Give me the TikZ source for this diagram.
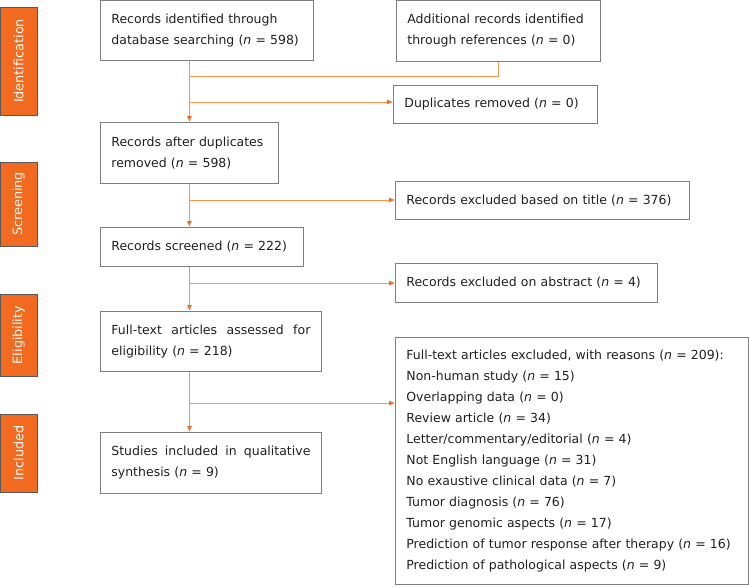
\documentclass[tikz,border=0pt]{standalone}
\usepackage{fontspec}
\setmainfont{DejaVu Sans}
\usepackage{tikz}
\usetikzlibrary{shapes,arrows,arrows.meta,positioning}
\definecolor{stageorange}{HTML}{F26A1F}
\definecolor{flowline}{HTML}{F7954A}
\definecolor{boxgray}{HTML}{7F7F7F}
\definecolor{inktext}{HTML}{231F20}
\newcommand{\boxfont}{\fontsize{12.5}{21}\selectfont\hyphenpenalty=10000 }
\newcommand{\nn}[1]{(\textit{n} = #1)}
\newcommand{\fullline}[1]{\hbox to \hsize{\spaceskip=0pt plus 1fil #1}}
\tikzstyle{record} = [draw=boxgray, line width=0.8pt, rectangle, anchor=north west, inner xsep=11pt, inner ysep=0pt, align=left, text=inktext, font=\boxfont]
\tikzstyle{stage} = [draw=gray!70!black, fill=stageorange, line width=0.6pt, rectangle, rotate=90, minimum height=37pt, inner sep=0pt, text=white, font=\fontsize{12.8}{15}\selectfont]
\tikzstyle{link} = [draw=flowline, line width=0.9pt]
\tikzstyle{linkarrow} = [link, -{Latex[length=6pt,width=5pt,color=stageorange]}]

\begin{document}
\begin{tikzpicture}[x=1pt,y=-1pt]
    \useasboundingbox (0,0) rectangle (749,586);
    % phases on the left
    \node[stage, minimum width=108pt] (identification) at (18.5,61) {Identification};
    \node[stage, minimum width=84pt] (screening) at (18.5,204) {Screening};
    \node[stage, minimum width=82pt] (eligibility) at (18.5,335) {Eligibility};
    \node[stage, minimum width=78pt] (included) at (18.5,453) {Included};
    % boxes of the main column
    \node[record, text width=191pt, minimum height=60pt] (database) at (100,0) {Records identified through\\database searching \nn{598}};
    \node[record, text width=156pt, minimum height=61pt] (afterdup) at (100,122) {Records after duplicates\\removed \nn{598}};
    \node[record, text width=181pt, minimum height=39pt] (screened) at (100,227) {Records screened \nn{222}};
    \node[record, text width=199pt, minimum height=60pt] (fulltext) at (100,311) {\fullline{Full-text articles assessed for}\\eligibility \nn{218}};
    \node[record, text width=199pt, minimum height=61pt] (studies) at (100,432) {\fullline{Studies included in qualitative}\\synthesis \nn{9}};
    % boxes on the right
    \node[record, text width=182pt, minimum height=61pt] (references) at (396,0) {Additional records identified\\through references \nn{0}};
    \node[record, text width=182pt, minimum height=38pt] (duplicates) at (393,85) {Duplicates removed \nn{0}};
    \node[record, text width=272pt, minimum height=38pt] (bytitle) at (395,181) {Records excluded based on title \nn{376}};
    \node[record, text width=240pt, minimum height=39pt] (byabstract) at (395,263) {Records excluded on abstract \nn{4}};
    \node[record, text width=331pt, minimum height=247pt] (reasons) at (395,337) {Full-text articles excluded, with reasons \nn{209}:\\
        Non-human study \nn{15}\\
        Overlapping data \nn{0}\\
        Review article \nn{34}\\
        Letter/commentary/editorial \nn{4}\\
        Not English language \nn{31}\\
        No exaustive clinical data \nn{7}\\
        Tumor diagnosis \nn{76}\\
        Tumor genomic aspects \nn{17}\\
        Prediction of tumor response after therapy \nn{16}\\
        Prediction of pathological aspects \nn{9}};
    % junctions on the spine
    \coordinate (merge) at (189,76);
    \coordinate (dupjoint) at (189,102);
    \coordinate (titlejoint) at (189,200);
    \coordinate (abstractjoint) at (189,283);
    \coordinate (reasonjoint) at (189,403);
    % connectors
    \draw[linkarrow] (database.south -| afterdup.north) -- (afterdup.north);
    \draw[link] (references.south) |- (merge);
    \draw[linkarrow] (dupjoint) -- (dupjoint -| duplicates.west);
    \draw[linkarrow] (afterdup.south) -- (afterdup.south |- screened.north);
    \draw[linkarrow] (titlejoint) -- (titlejoint -| bytitle.west);
    \draw[linkarrow] (afterdup.south |- screened.south) -- (afterdup.south |- fulltext.north);
    \draw[linkarrow] (abstractjoint) -- (abstractjoint -| byabstract.west);
    \draw[linkarrow] (afterdup.south |- fulltext.south) -- (afterdup.south |- studies.north);
    \draw[linkarrow] (reasonjoint) -- (reasonjoint -| reasons.west);
\end{tikzpicture}
\end{document}
